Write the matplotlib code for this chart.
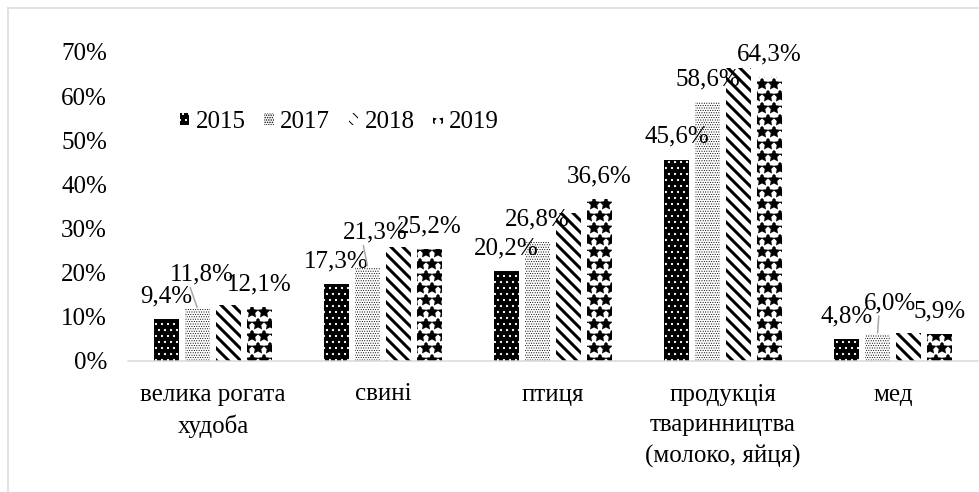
import matplotlib.pyplot as plt
import matplotlib as mpl
from matplotlib.lines import Line2D
import numpy as np

plt.rcParams['font.family'] = ['Liberation Serif', 'DejaVu Serif']

categories = ["велика рогата\nхудоба", "свині", "птиця",
              "продукція\nтваринництва\n(молоко, яйця)", "мед"]
years = ["2015", "2017", "2018", "2019"]
v2015 = [9.4, 17.3, 20.2, 45.6, 4.8]
v2017 = [11.8, 21.3, 26.8, 58.6, 6.0]
v2018 = [12.7, 25.8, 33.4, 66.3, 6.2]
v2019 = [12.1, 25.2, 36.6, 64.3, 5.9]
yticks = [0, 10, 20, 30, 40, 50, 60, 70]

series = [v2015, v2017, v2018, v2019]
labelled = [True, True, False, True]

# bar looks: face, hatch colour, hatch, hatch linewidth
styles = [
    ("black", "white", "..", 1.0),
    ("white", "black", ".....", 0.6),
    ("white", "black", "\\\\", 3.0),
    ("white", "black", "*", 2.5),
]
# label nudges (pixels) for the moved 2017 labels, with leader lines
nudges = {(1, 0): (4, 34), (1, 1): (8, 34), (1, 4): (12, 31)}

W, H, DPI = 979, 492, 72
fig = plt.figure(figsize=(W / DPI, H / DPI), dpi=DPI)
ax = fig.add_axes([128 / W, 1 - 360.5 / H, 850 / W, 308.5 / H])

x = np.arange(len(categories))
pitch, width = 0.182, 0.147
FS = 25

handles = []
for i, (vals, st) in enumerate(zip(series, styles)):
    face, hc, hatch, hlw = st
    with mpl.rc_context({'hatch.linewidth': hlw}):
        bars = ax.bar(x + (i - 1.5) * pitch, vals, width, color=face,
                      edgecolor=hc, hatch=hatch, linewidth=0, label=years[i])
    for b in bars:
        if hasattr(b, "set_hatch_linewidth"):
            b.set_hatch_linewidth(hlw)
    handles.append(bars)
    if not labelled[i]:
        continue
    for j, v in enumerate(vals):
        txt = f"{v:.1f}%".replace(".", ",")
        dx, dy = nudges.get((i, j), (0, 23))
        if (i, j) in nudges:
            ax.annotate(txt, (x[j] + (i - 1.5) * pitch, v), xytext=(dx, dy),
                        textcoords="offset pixels", ha="center", va="center",
                        fontsize=FS,
                        arrowprops=dict(arrowstyle="-", color="#a6a6a6", lw=1.5,
                                        shrinkA=0, shrinkB=1, relpos=(0.3, 0.1)))
        else:
            ax.annotate(txt, (x[j] + (i - 1.5) * pitch, v), xytext=(dx, dy),
                        textcoords="offset pixels", ha="center", va="center",
                        fontsize=FS)

ax.set_xlim(-0.5, 4.5)
ax.set_ylim(0, 70)
ax.set_yticks(yticks)
ax.set_yticklabels([f"{t}%" for t in yticks], fontsize=FS)
ax.set_xticks(x)
ax.set_xticklabels(categories, fontsize=FS, linespacing=1.5)
ax.tick_params(axis="both", length=0)
ax.tick_params(axis="y", pad=21)
ax.tick_params(axis="x", pad=23)
for s in ["top", "right", "left"]:
    ax.spines[s].set_visible(False)
ax.spines["bottom"].set_color("#d9d9d9")
ax.spines["bottom"].set_linewidth(1.5)

leg = ax.legend(handles=handles, loc="center left", bbox_to_anchor=(0.061, 0.773),
                ncol=4, frameon=False, fontsize=FS, handlelength=0.38,
                handleheight=0.38, handletextpad=0.25, columnspacing=0.75,
                borderpad=0, borderaxespad=0)

# outer chart border (only top and left fall inside the image)
fig.add_artist(Line2D([8 / W, 1], [1 - 8 / H, 1 - 8 / H], color="#d9d9d9", lw=1.5))
fig.add_artist(Line2D([8 / W, 8 / W], [0, 1 - 8 / H], color="#d9d9d9", lw=1.5))

fig.savefig("out.png", dpi=DPI)
